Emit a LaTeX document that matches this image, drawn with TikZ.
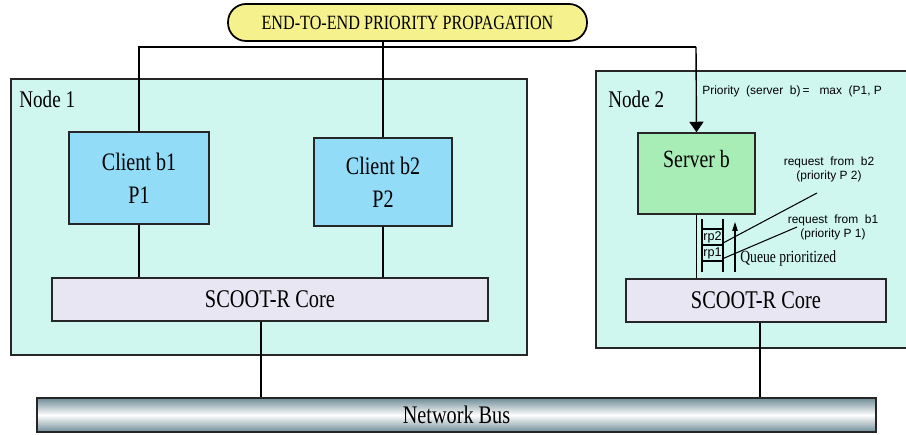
\documentclass[tikz,border=0pt]{standalone}
\usepackage{fontspec}
\usepackage{xcolor}
\usepackage{tikz}
\usetikzlibrary{arrows.meta, positioning, calc, shapes.geometric}
\newfontfamily\narrowserif{Liberation Serif}[FakeStretch=0.8]
\newfontfamily\arialfont{Liberation Sans}
\definecolor{nodebg}{HTML}{CFF7F0}
\definecolor{clientfill}{HTML}{92DCF8}
\definecolor{serverfill}{HTML}{A8ECB6}
\definecolor{corefill}{HTML}{E8E6F2}
\definecolor{pillfill}{HTML}{F5F28E}
\definecolor{busedge}{HTML}{6F8C97}
\tikzset{
  hostbox/.style={rectangle, draw=black!85, line width=0.8pt, fill=nodebg},
  client/.style={rectangle, draw=black!85, line width=0.8pt, fill=clientfill,
                 align=center, font=\narrowserif\fontsize{14.3}{18.7}\selectfont},
  server/.style={client, fill=serverfill, font=\narrowserif\fontsize{14.1}{17}\selectfont},
  core/.style={rectangle, draw=black!85, line width=0.8pt, fill=corefill,
               minimum height=0.86cm, font=\narrowserif\fontsize{14.5}{17}\selectfont},
  pill/.style={rectangle, rounded corners=0.36cm, draw=black, line width=1pt, fill=pillfill,
               font=\narrowserif\fontsize{11.5}{14}\selectfont},
  bus/.style={rectangle, draw=black!85, line width=1.2pt, top color=busedge,
              bottom color=busedge, middle color=white,
              font=\narrowserif\fontsize{14.4}{17}\selectfont},
  hostlabel/.style={anchor=west, inner sep=0pt, font=\narrowserif\fontsize{13.6}{16}\selectfont},
  note/.style={inner sep=0pt, align=center, font=\arialfont\fontsize{6.8}{8.2}\selectfont},
  slot/.style={inner sep=0pt, font=\arialfont\fontsize{7.2}{8}\selectfont},
  link/.style={draw=black, line width=0.8pt},
  arrow/.style={link, -{Triangle[width=8pt,length=6pt]}},
}
\begin{document}
\begin{tikzpicture}[x=0.02cm, y=-0.02cm]
  \useasboundingbox (0,0) rectangle (906,435);

  %% hosts
  \node[hostbox, minimum width=10.32cm, minimum height=5.52cm] (host1) at (269,217) {};
  \node[hostbox, minimum width=6.28cm, minimum height=5.54cm] (host2) at (753,209.5) {};
  \node[hostlabel] (host1lbl) at (19,99) {Node 1};
  \node[hostlabel] (host2lbl) at (608,99) {Node 2};

  %% tasks
  \node[client, minimum width=2.8cm, minimum height=1.84cm] (cb1) at (139,178) {Client b1\\P1};
  \node[client, minimum width=2.76cm, minimum height=1.76cm] (cb2) at (383,182) {Client b2\\P2};
  \node[server, minimum width=2.34cm, minimum height=1.62cm, text depth=0.6cm] (srv) at (696.5,173.5) {Server b};

  %% cores and bus
  \node[core, minimum width=8.72cm] (core1) at (270,299.5) {SCOOT-R Core};
  \node[core, minimum width=5.2cm] (core2) at (756,300.5) {SCOOT-R Core};
  \node[bus, minimum width=16.78cm, minimum height=0.68cm] (bus) at (456.5,415) {Network Bus};

  %% propagation
  \node[pill, minimum width=7.18cm, minimum height=0.74cm] (prop) at (407.5,22.5) {END-TO-END PRIORITY PROPAGATION};
  \coordinate (barL) at (139,47);
  \coordinate (barR) at (696,47);
  \draw[link] (cb1.north) |- (barR);
  \draw[arrow] (barR) -- (srv.north);
  \draw[link] (cb2.north) -- (cb2.north |- prop.south);

  %% task to core, core to bus
  \draw[link] (cb1.south) -- (cb1.south |- core1.north);
  \draw[link] (cb2.south) -- (cb2.south |- core1.north);
  \draw[link] (srv.south) -- (srv.south |- core2.north);
  \draw[link] ([xshift=-0.18cm]core1.south) -- ([xshift=-0.18cm]core1.south |- bus.north);
  \draw[link] ([xshift=0.08cm]core2.south) -- ([xshift=0.08cm]core2.south |- bus.north);

  %% queue
  \draw[link] (702,219) -- (702,272);
  \draw[link] (723,219) -- (723,272);
  \foreach \y in {229,245,261}
    \draw[link] (702,\y) -- (723,\y);
  \node[slot] (rp2) at (712.5,237.5) {rp2};
  \node[slot] (rp1) at (712.5,253) {rp1};
  \draw[link, line width=0.7pt, -{Triangle[width=3pt,length=5pt]}] (735,272) -- (735,222);
  \node[anchor=west, inner sep=0pt, font=\narrowserif\fontsize{9.7}{12}\selectfont] (qlbl) at (740,258) {Queue prioritized};

  %% priority notes
  \node[note, anchor=west] (maxrule) at (702,91) {Priority\ \ (server\ \ b)\,=\ \ \ max\ \ (P1, P};
  \node[note] (req2) at (829,169.5) {request\ \ from\ \ b2\\(priority P\ 2)};
  \node[note] (req1) at (833,227.5) {request\ \ from\ \ b1\\(priority P\ 1)};
  \coordinate (req2end) at (817,193);
  \coordinate (req1end) at (797,227);
  \draw[line width=0.6pt] (req2end) -- (rp2.south east);
  \draw[line width=0.6pt] (req1end) -- (rp1.south east);

\end{tikzpicture}
\end{document}
